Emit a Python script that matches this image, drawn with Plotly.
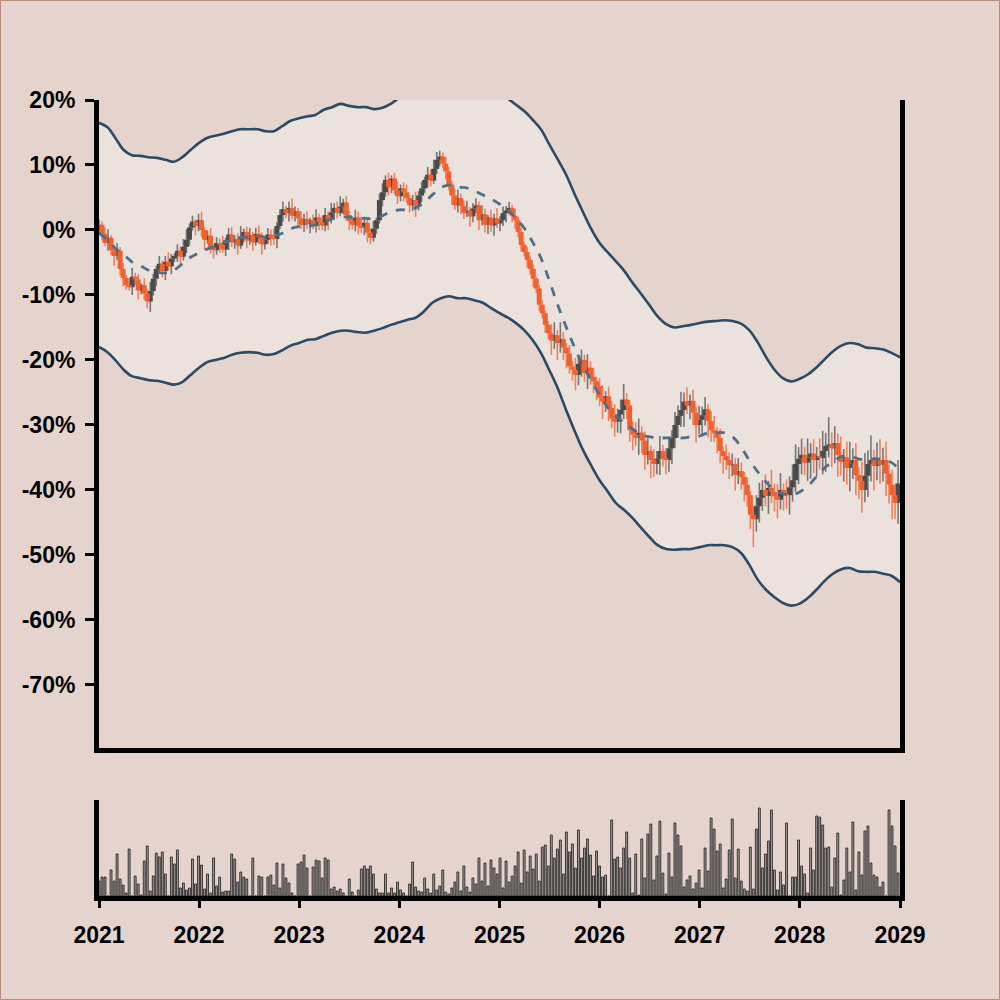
import pandas as pd
import plotly.graph_objects as go

BG = '#e4d4cd'
BAND_FILL = 'rgba(255,255,255,0.32)'
BAND_LINE = '#2c4a64'
MID_LINE = '#4f6f86'
UP_COLOR = '#4a4a4a'
DOWN_COLOR = '#f1602f'
UP_WICK = 'rgba(90,90,90,0.8)'
DOWN_WICK = 'rgba(241,96,47,0.75)'
FONT = 'Liberation Sans'
DAY_MS = 24 * 3600 * 1000

# candle closes (% change), one candle every 11 days from 2021-01-01
closes = [
    0.8, -0.6, -2.0, -1.2, -3.1, -4.0, -3.2, -6.0, -7.4, -8.5,
    -8.8, -7.2, -7.6, -9.3, -8.5, -9.8, -11.0, -9.4, -7.5, -6.0,
    -5.2, -6.3, -4.9, -5.6, -4.4, -4.0, -3.2, -4.1, -2.6, -1.5,
    0.4, 1.3, 0.6, 1.5, 0.0, -1.5, -0.9, -2.7, -3.1, -2.0,
    -2.3, -3.0, -1.6, -0.7, -1.9, -1.4, -2.4, -1.0, -0.3, -1.6,
    -0.8, -1.9, -0.6, -1.1, -2.2, -1.5, -0.7, -1.2, -1.4, 0.6,
    2.3, 3.2, 2.6, 3.4, 2.2, 2.9, 1.8, 0.8, 1.7, 0.9,
    1.5, 0.6, 1.9, 1.2, 0.7, 2.3, 1.6, 2.7, 3.4, 2.6,
    3.6, 4.2, 2.3, 1.4, 0.8, 1.9, 0.6, 0.3, 1.1, -0.4,
    -1.2, 0.2, 1.5, 4.6, 5.8, 7.7, 6.6, 7.9, 6.1, 5.2,
    6.4, 5.8, 4.9, 3.8, 4.6, 3.6, 5.3, 6.4, 7.7, 8.5,
    7.6, 9.4, 10.8, 11.3, 10.2, 9.0, 7.0, 5.3, 3.8, 4.9,
    3.7, 2.6, 3.0, 2.1, 3.3, 3.8, 1.5, 2.4, 0.8, 1.9,
    0.7, 1.8, 1.0, 1.5, 2.6, 3.0, 3.4, 2.2, 1.5, -0.3,
    -2.3, -3.4, -4.6, -6.0, -7.5, -9.0, -11.5, -12.8, -14.6, -15.9,
    -17.0, -16.2, -17.4, -16.8, -18.1, -19.0, -21.0, -21.5, -22.3, -20.6,
    -20.0, -22.0, -21.2, -22.6, -23.3, -24.0, -25.8, -26.4, -25.6, -27.4,
    -29.0, -29.5, -28.4, -27.7, -26.1, -27.0, -30.8, -31.5, -32.0, -31.2,
    -32.4, -34.6, -34.0, -35.4, -36.0, -35.2, -34.0, -35.1, -35.4, -33.6,
    -32.0, -30.0, -28.6, -27.7, -26.4, -27.0, -26.3, -28.1, -30.0, -29.2,
    -28.5, -27.6, -29.4, -30.8, -31.3, -32.0, -34.0, -34.8, -35.4, -36.2,
    -36.0, -37.7, -37.1, -38.0, -39.2, -40.8, -43.8, -44.5, -42.5, -41.2,
    -40.0, -40.9, -39.7, -40.3, -41.0, -41.5, -40.0, -40.6, -40.8, -39.6,
    -38.5, -36.0, -35.2, -34.6, -35.8, -35.0, -34.4, -35.4, -34.8, -35.1,
    -34.0, -33.2, -33.0, -33.6, -32.8, -34.6, -35.7, -35.0, -36.6, -35.9,
    -35.4, -37.7, -38.6, -40.0, -37.8, -36.0, -35.4, -36.3, -35.4, -36.1,
    -35.4, -37.5, -39.2, -40.8, -42.0, -39.0,
]

# wick lengths above / below the candle body (percentage points)
wick_up = [
    0.8, 0.5, 1.0, 1.3, 0.4, 0.7, 1.2, 0.6, 0.9, 0.5,
    1.0, 1.4, 0.6, 0.8, 0.3, 1.1, 0.7, 1.4, 0.8, 0.5,
    1.2, 0.5, 0.9, 1.5, 0.7, 0.4, 1.0, 0.7, 1.2, 1.6,
    0.6, 0.9, 0.3, 1.0, 1.3, 0.5, 0.8, 1.2, 0.5, 0.9,
    0.7, 1.4, 0.4, 1.0, 1.2, 0.6, 0.9, 1.6, 0.5, 0.8,
    1.1, 0.5, 0.9, 1.3, 0.7, 0.4, 1.0, 0.8, 1.4, 0.6,
    0.9, 1.2, 0.5, 1.0, 1.4, 0.7, 0.5, 1.1, 0.8, 1.2,
    0.4, 0.9, 1.3, 0.6, 0.9, 1.1, 0.5, 1.5, 0.7, 1.0,
    1.6, 0.6, 1.0, 0.8, 0.5, 1.2, 0.9, 1.3, 0.5, 0.9,
    0.7, 1.2, 0.4, 1.0, 1.4, 0.7, 1.1, 0.5, 0.9, 1.4,
    0.6, 0.9, 1.2, 0.5, 0.8, 1.3, 0.7, 1.0, 0.5, 1.2,
    0.9, 1.4, 1.2, 0.9, 0.6, 1.0, 0.7, 0.5, 1.0, 1.3,
    0.7, 0.9, 1.5, 0.5, 0.8, 1.1, 0.6, 1.4, 0.9, 0.4,
    1.2, 0.7, 1.6, 0.6, 1.0, 0.7, 0.9, 0.5, 1.0, 0.5,
    0.6, 0.4, 0.8, 0.5, 0.7, 0.3, 0.5, 0.7, 0.4, 0.6,
    1.4, 2.0, 0.8, 2.6, 1.1, 0.7, 1.3, 0.9, 1.8, 1.2,
    1.6, 0.8, 2.1, 1.0, 1.4, 0.7, 1.2, 1.9, 0.8, 1.5,
    1.1, 2.2, 0.9, 1.6, 2.4, 1.0, 0.8, 1.3, 1.9, 2.2,
    1.0, 1.4, 2.0, 0.8, 1.7, 1.2, 2.3, 0.9, 1.5, 1.8,
    1.2, 2.0, 1.6, 2.8, 1.4, 2.2, 1.0, 1.7, 0.9, 2.1,
    1.3, 1.9, 0.8, 1.5, 2.2, 1.0, 1.4, 0.7, 1.8, 1.2,
    1.6, 0.9, 2.0, 1.3, 0.8, 1.1, 0.6, 1.4, 1.7, 2.3,
    1.5, 2.4, 1.1, 2.8, 1.3, 1.9, 2.6, 1.0, 2.2, 1.7,
    2.4, 3.0, 1.8, 2.5, 1.2, 2.9, 1.6, 2.2, 1.4, 2.7,
    3.1, 2.0, 4.2, 1.9, 2.6, 1.5, 2.8, 1.3, 2.4, 3.3,
    1.8, 2.6, 1.2, 2.9, 3.5, 2.1, 3.8, 1.6, 2.7, 3.2,
    1.9, 2.8, 1.4, 2.3, 1.7, 3.6,
]
wick_dn = [
    0.7, 1.0, 0.5, 1.2, 0.8, 1.5, 0.6, 1.0, 1.3, 0.7,
    0.5, 1.2, 0.9, 1.4, 0.6, 0.9, 1.1, 1.6, 0.7, 1.1,
    0.5, 1.0, 1.4, 0.7, 1.2, 0.5, 0.9, 1.3, 0.6, 1.0,
    0.9, 0.5, 1.4, 0.8, 1.1, 1.6, 0.6, 0.9, 1.3, 0.7,
    1.2, 0.5, 1.0, 1.5, 0.7, 1.0, 1.4, 0.5, 0.9, 1.2,
    0.7, 1.3, 0.5, 1.0, 1.6, 0.8, 0.6, 1.2, 0.9, 1.4,
    0.5, 1.0, 0.8, 1.3, 0.6, 0.9, 1.5, 0.7, 1.1, 0.7,
    1.4, 0.5, 1.0, 1.2, 0.7, 0.9, 1.6, 0.6, 1.0, 0.8,
    0.5, 1.2, 0.9, 1.4, 0.7, 1.0, 1.3, 0.8, 1.1, 1.5,
    1.0, 0.6, 0.8, 0.5, 1.0, 0.7, 1.3, 0.9, 0.6, 1.2,
    0.8, 1.4, 0.7, 1.1, 0.9, 1.6, 0.6, 1.0, 0.7, 1.2,
    0.9, 0.5, 0.8, 1.0, 0.7, 1.2, 0.9, 1.4, 0.7, 1.1,
    1.3, 0.9, 0.6, 1.6, 0.9, 0.7, 1.5, 0.8, 1.2, 1.4,
    1.0, 1.6, 0.7, 1.2, 0.9, 1.4, 0.6, 1.0, 1.3, 0.8,
    1.0, 0.7, 1.2, 0.9, 1.3, 0.7, 1.0, 0.8, 1.2, 0.9,
    2.2, 1.3, 2.6, 1.5, 1.9, 2.3, 1.1, 1.7, 2.4, 1.6,
    2.0, 1.4, 2.5, 1.2, 1.8, 2.2, 1.3, 2.7, 1.6, 2.0,
    1.5, 2.3, 1.7, 2.9, 1.4, 2.1, 1.8, 2.4, 1.2, 2.6,
    1.9, 2.3, 1.5, 2.8, 2.0, 1.6, 2.5, 1.3, 2.2, 1.8,
    2.4, 1.5, 2.0, 1.7, 2.6, 1.3, 2.1, 1.9, 2.7, 1.4,
    2.2, 1.6, 2.5, 1.8, 1.3, 2.4, 1.9, 2.7, 1.5, 2.1,
    1.7, 2.4, 1.4, 2.0, 2.6, 1.8, 2.2, 4.3, 1.9, 2.5,
    2.0, 1.6, 2.8, 1.7, 2.3, 2.9, 1.5, 2.6, 2.1, 3.0,
    2.2, 1.8, 3.1, 2.4, 1.9, 2.8, 3.3, 2.0, 2.6, 1.7,
    2.5, 3.2, 1.8, 2.9, 2.3, 3.4, 2.1, 3.0, 2.6, 3.6,
    2.4, 3.1, 2.8, 3.5, 1.9, 3.3, 2.7, 3.8, 2.2, 3.0,
    2.6, 3.4, 2.9, 3.7, 2.5, 3.2,
]

volumes = [
    15, 19, 19, 0, 26, 15, 42, 17, 11, 3,
    47, 0, 20, 12, 1, 35, 50, 5, 20, 43,
    39, 44, 22, 0, 39, 32, 46, 8, 13, 6,
    8, 37, 12, 40, 31, 7, 22, 3, 38, 10,
    19, 4, 5, 5, 42, 37, 14, 24, 19, 17,
    0, 38, 0, 20, 19, 0, 19, 21, 11, 33,
    8, 32, 18, 13, 3, 0, 32, 34, 41, 28,
    0, 29, 36, 35, 18, 38, 36, 7, 9, 5,
    7, 3, 0, 17, 4, 0, 6, 27, 30, 27,
    30, 22, 7, 3, 3, 22, 3, 8, 3, 14,
    6, 3, 0, 12, 34, 9, 5, 4, 18, 7,
    3, 22, 6, 10, 26, 4, 2, 8, 14, 24,
    5, 30, 9, 4, 18, 12, 38, 15, 33, 10,
    36, 28, 22, 38, 8, 35, 14, 20, 30, 44,
    13, 46, 24, 40, 27, 42, 15, 49, 51, 30,
    61, 38, 47, 56, 22, 64, 44, 52, 28, 66,
    38, 48, 57, 41, 20, 45, 30, 19, 21, 0,
    76, 37, 39, 28, 48, 64, 38, 3, 42, 1,
    57, 18, 62, 72, 16, 40, 75, 23, 2, 43,
    19, 73, 61, 50, 9, 16, 20, 7, 13, 26,
    8, 48, 25, 78, 67, 45, 52, 8, 17, 46,
    77, 18, 47, 15, 7, 5, 49, 7, 67, 88,
    28, 42, 55, 86, 26, 6, 24, 11, 73, 0,
    19, 19, 56, 30, 22, 3, 48, 26, 80, 79,
    71, 48, 49, 9, 38, 63, 1, 16, 48, 24,
    74, 6, 44, 21, 65, 70, 33, 21, 19, 9,
    14, 0, 86, 70, 50, 23,
]

# bands, monthly from 2021-01 to 2029-01
band_upper = [
    16.5, 15.8, 14.2, 12.3, 11.5, 11.4, 11.2, 11.1, 10.8, 10.5, 11.2, 12.3,
    13.4, 14.2, 14.5, 14.8, 15.2, 15.5, 15.5, 15.5, 15.2, 15.2, 16.0, 16.8,
    17.2, 17.5, 17.7, 18.5, 18.9, 19.4, 19.1, 18.9, 18.9, 18.6, 18.8, 19.4,
    20.3, 20.8, 21.2, 21.6, 22.4, 23.5, 24.2, 24.3, 23.8, 23.2, 22.6, 22.0,
    21.0, 20.2, 19.3, 18.3, 17.0, 15.5, 13.2, 10.9, 8.5, 5.6, 2.8, 0.2,
    -2.0, -3.5, -4.8, -6.3, -8.1, -9.8, -11.5, -13.3, -14.5, -15.0, -14.8, -14.6,
    -14.3, -14.1, -14.0, -13.9, -14.0, -14.4, -15.4, -17.3, -19.6, -21.5, -22.8, -23.3,
    -22.9, -22.2, -21.2, -19.9, -18.7, -17.8, -17.4, -17.6, -18.1, -18.2, -18.4, -18.9,
    -19.6,
]
band_lower = [
    -18.0, -18.8, -20.0, -21.5, -22.5, -22.8, -23.1, -23.2, -23.5, -23.8, -23.4, -22.3,
    -21.2, -20.3, -20.0, -19.7, -19.2, -18.9, -18.8, -18.9, -19.2, -19.1, -18.5, -17.8,
    -17.4, -16.9, -16.8, -16.3, -15.8, -15.5, -15.5, -15.7, -15.8, -15.5, -15.1, -14.6,
    -14.2, -13.8, -13.5, -12.5, -11.2, -10.5, -10.2, -10.5, -10.5, -10.8, -11.2, -12.0,
    -12.8, -13.5, -14.3, -15.4, -16.9, -18.9, -21.5, -24.3, -27.7, -30.8, -33.8, -36.2,
    -38.5, -40.3, -42.0, -43.1, -44.3, -45.8, -47.2, -48.5, -49.1, -49.2, -49.1, -49.1,
    -48.8, -48.5, -48.5, -48.5, -48.8, -49.7, -51.5, -53.8, -55.4, -56.5, -57.4, -57.8,
    -57.5, -56.6, -55.4, -54.0, -52.9, -52.2, -52.0, -52.5, -52.6, -52.6, -52.9, -53.2,
    -54.2,
]
band_mid = [
    -0.5, -1.5, -2.8, -3.8, -4.9, -5.5, -6.2, -6.5, -6.6, -6.2, -5.2, -4.2,
    -3.5, -2.9, -2.5, -2.0, -1.5, -1.2, -1.1, -0.9, -1.1, -0.9, -0.5, 0.2,
    0.5, 0.6, 0.8, 1.2, 1.7, 2.0, 2.0, 1.8, 1.8, 1.7, 2.2, 2.8,
    3.1, 3.1, 3.4, 4.2, 5.4, 6.5, 6.9, 6.6, 6.5, 6.0, 5.4, 4.8,
    4.0, 3.1, 1.8, 0.3, -1.8, -4.3, -7.7, -11.5, -14.9, -18.0, -20.8, -23.1,
    -25.4, -27.4, -28.5, -29.7, -30.6, -31.5, -31.8, -32.0, -32.0, -32.0, -32.0, -31.8,
    -31.7, -31.2, -31.2, -31.2, -31.8, -33.4, -35.4, -37.2, -38.8, -40.0, -40.6, -40.8,
    -40.3, -39.4, -38.0, -36.6, -35.7, -34.9, -34.8, -35.2, -35.4, -35.2, -35.4, -35.8,
    -36.9,
]

y_ticks = [20, 10, 0, -10, -20, -30, -40, -50, -60, -70]
x_ticks = ['2021', '2022', '2023', '2024', '2025', '2026', '2027', '2028', '2029']

dates = pd.date_range('2021-01-01', periods=len(closes), freq='11D')
band_dates = pd.date_range('2021-01-01', periods=len(band_mid), freq='MS')

# candles chain: each opens where the previous one closed
opens = [0.0] + closes[:-1]
highs = [max(o, c) + w for o, c, w in zip(opens, closes, wick_up)]
lows = [min(o, c) - w for o, c, w in zip(opens, closes, wick_dn)]


def segments(rising, lo, hi):
    # vertical segments (x, lo) -> (x, hi) separated by None, for one colour
    xs, ys = [], []
    for d, o, c, a, b in zip(dates, opens, closes, lo, hi):
        if (c >= o) == rising:
            xs += [d, d, None]
            ys += [a, b, None]
    return xs, ys


fig = go.Figure()

# band fill + outlines
fig.add_trace(go.Scatter(x=band_dates, y=band_upper, mode='lines', line=dict(color=BAND_LINE, width=2.6, shape='spline'),
                         showlegend=False, hoverinfo='skip'))
fig.add_trace(go.Scatter(x=band_dates, y=band_lower, mode='lines', line=dict(color=BAND_LINE, width=2.6, shape='spline'),
                         fill='tonexty', fillcolor=BAND_FILL, showlegend=False, hoverinfo='skip'))

# wicks then bodies
for rising, col in [(True, UP_WICK), (False, DOWN_WICK)]:
    xs, ys = segments(rising, lows, highs)
    fig.add_trace(go.Scatter(x=xs, y=ys, mode='lines', line=dict(color=col, width=1.6),
                             showlegend=False, hoverinfo='skip'))
body_lo = [min(o, c) for o, c in zip(opens, closes)]
body_hi = [max(o, c) for o, c in zip(opens, closes)]
for rising, col in [(True, UP_COLOR), (False, DOWN_COLOR)]:
    xs, ys = segments(rising, body_lo, body_hi)
    fig.add_trace(go.Scatter(x=xs, y=ys, mode='lines', line=dict(color=col, width=5),
                             showlegend=False, hoverinfo='skip'))

fig.add_trace(go.Scatter(x=band_dates, y=band_mid, mode='lines',
                         line=dict(color=MID_LINE, width=2.8, dash='dash', shape='spline'),
                         showlegend=False, hoverinfo='skip'))

# volume
fig.add_trace(go.Bar(x=dates, y=volumes, marker=dict(color='#a09a98', line=dict(color='#1a1a1a', width=0.8)),
                     width=7 * DAY_MS, xaxis='x2', yaxis='y2', showlegend=False))

x_range = ['2021-01-01', '2029-01-01']
tick_font = dict(family=FONT, size=23, color='black', weight='bold')

fig.update_layout(
    width=1000, height=1000,
    margin=dict(l=99, r=100, t=100, b=104),
    paper_bgcolor=BG, plot_bgcolor=BG,
    xaxis=dict(domain=[0, 1], anchor='y', range=x_range,
               showgrid=False, zeroline=False, showline=True, linecolor='black', linewidth=5,
               showticklabels=False, ticks=''),
    yaxis=dict(domain=[0.186, 1], anchor='x', range=[-79.7, 20],
               tickvals=y_ticks, ticktext=[f'{v}%' for v in y_ticks],
               showgrid=False, zeroline=False, showline=True, mirror=True, linecolor='black', linewidth=5,
               ticks='outside', ticklen=9, tickwidth=2.5, tickcolor='black', ticklabelstandoff=5,
               tickfont=tick_font),
    xaxis2=dict(domain=[0, 1], anchor='y2', range=x_range, matches='x',
                tickvals=[f'{y}-01-01' for y in x_ticks], ticktext=x_ticks,
                showgrid=False, zeroline=False, showline=True, linecolor='black', linewidth=5,
                ticks='outside', ticklen=7, tickwidth=2.5, tickcolor='black', ticklabelstandoff=7,
                tickfont=tick_font),
    yaxis2=dict(domain=[0, 0.1206], anchor='x2', range=[0, 96],
                showgrid=False, zeroline=False, showline=True, mirror=True, linecolor='black', linewidth=5,
                showticklabels=False, ticks=''),
    shapes=[dict(type='rect', xref='paper', yref='paper',
                 x0=-98.5 / 801, x1=900.5 / 801, y0=-103.5 / 796, y1=895.5 / 796,
                 line=dict(color='#b88a7a', width=1), fillcolor='rgba(0,0,0,0)', layer='below')],
)

# the page body has an 8px default margin; drop it so the figure sits at 0,0
fig.write_html('out.html', config={'displayModeBar': False},
               post_script="document.body.style.margin='0';document.body.style.background='%s';" % BG)
